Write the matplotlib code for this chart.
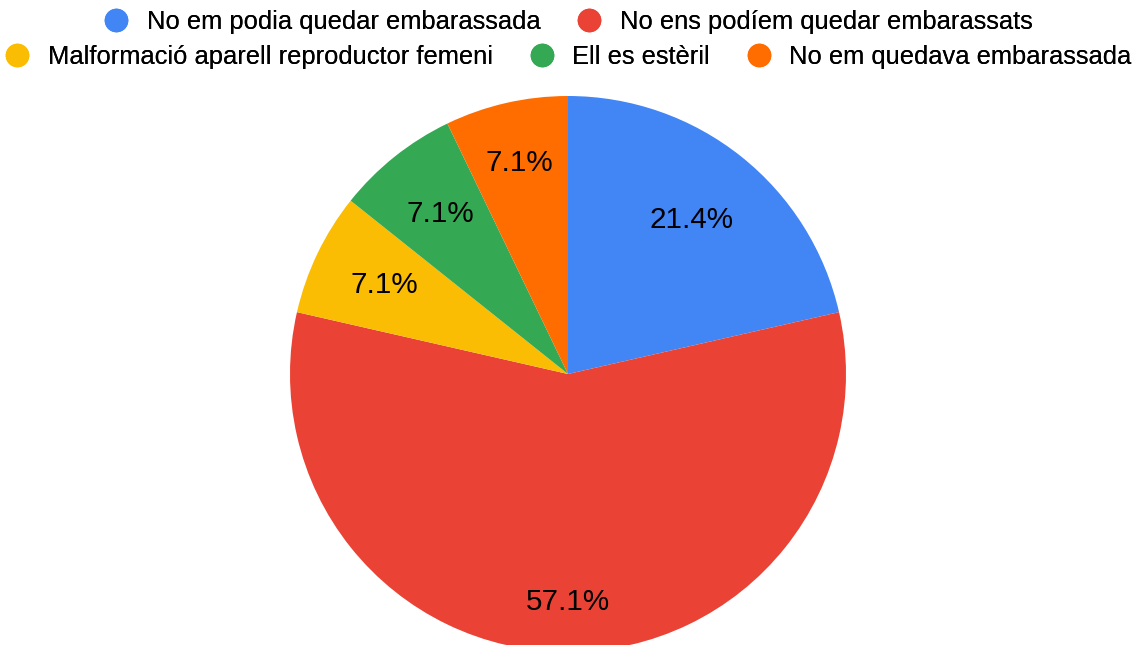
import numpy as np
import matplotlib.pyplot as plt
from matplotlib.lines import Line2D

plt.rcParams['font.family'] = ['Liberation Sans', 'DejaVu Sans']

# Respostes (14 en total)
labels = ['No em podia quedar embarassada', 'No ens podíem quedar embarassats',
          'Malformació aparell reproductor femeni', 'Ell es estèril',
          'No em quedava embarassada']
counts = [3, 8, 1, 1, 1]
colors = ['#4285F4', '#EA4335', '#FBBC04', '#34A853', '#FF6D01']

W, H = 1138, 645
cx, cy, r = 568, 374, 278   # centre i radi del pastís en píxels

fig = plt.figure(figsize=(W / 100, H / 100), dpi=100)
ax = fig.add_axes([0, 0, 1, 1])

wedges, texts, autotexts = ax.pie(
    counts, colors=colors, startangle=90, counterclock=False,
    autopct='%1.1f%%', pctdistance=0.77,
    wedgeprops=dict(linewidth=0), textprops=dict(fontsize=21.3, color='black'))

# distància de cada etiqueta al centre
label_dist = [0.71, 0.82, 0.735, 0.735, 0.78]
for w, t, d in zip(wedges, autotexts, label_dist):
    a = np.deg2rad((w.theta1 + w.theta2) / 2)
    t.set_position((d * np.cos(a), d * np.sin(a)))

ax.set_xlim(-cx / r, (W - cx) / r)
ax.set_ylim(-(H - cy) / r, cy / r)
ax.set_aspect('equal', adjustable='box')
ax.axis('off')

# Llegenda en dues files centrades
def handle(c):
    return Line2D([], [], marker='o', linestyle='none', markersize=16,
                  markerfacecolor=c, markeredgecolor=c)

rows = [[0, 1], [2, 3, 4]]
ys = [22, 57]
for row, y in zip(rows, ys):
    leg = fig.legend([handle(colors[i]) for i in row], [labels[i] for i in row],
                     loc='center', bbox_to_anchor=(cx / W, 1 - y / H), ncol=len(row),
                     frameon=False, fontsize=18.4, handletextpad=0.7, columnspacing=1.4,
                     borderpad=0, handlelength=1.0)
    fig.add_artist(leg)

fig.savefig('out.png', dpi=100, facecolor='white')
